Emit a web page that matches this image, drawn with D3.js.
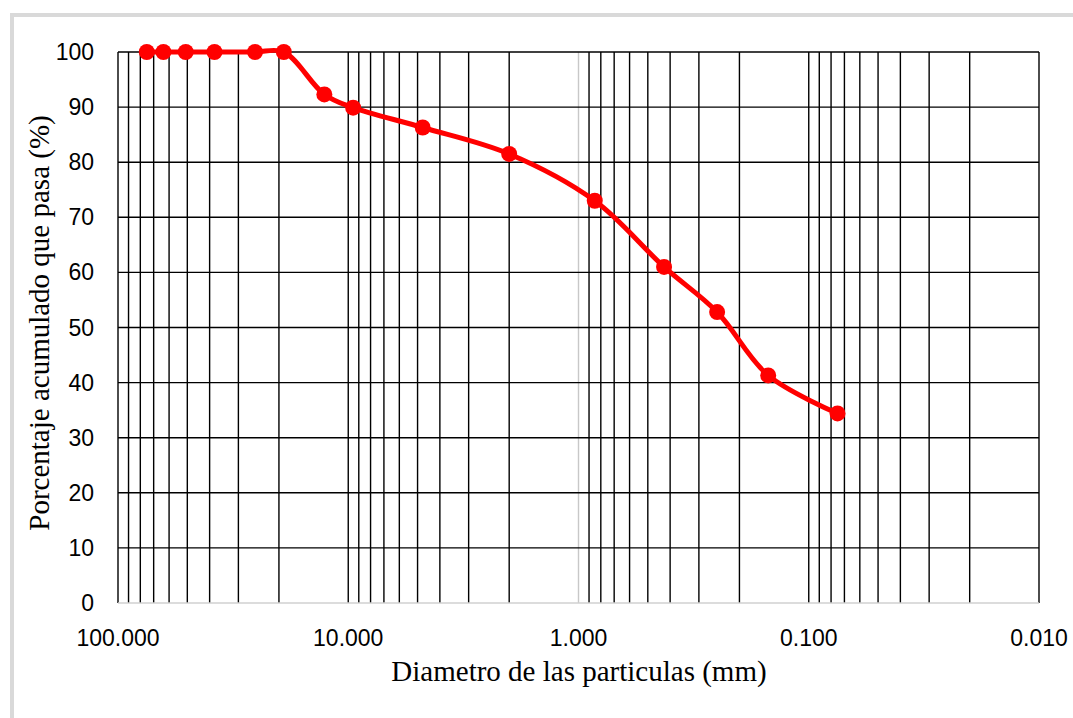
<!DOCTYPE html>
<meta charset="utf-8">
<html lang="es">
<head>
    <title>Curva granulometrica</title>
    <script src="https://d3js.org/d3.v7.min.js"></script>
    <style>
        body { margin: 0; background: #fff; }
        .tick-label { font: 23px "Liberation Sans", Arial, sans-serif; fill: #000; }
        .axis-title { font: 29px "Liberation Serif", "Times New Roman", serif; fill: #000; }
    </style>
</head>
<body>
    <svg width="1073" height="718"></svg>
    <script>
        // Sieve openings (mm) and cumulative % passing
        var diameters = [75, 63.5, 50.8, 38.1, 25.4, 19.05, 12.7, 9.525, 4.75, 2.0, 0.85, 0.425, 0.25, 0.15, 0.075];
        var passing = [100, 100, 100, 100, 100, 100, 92.3, 89.9, 86.3, 81.5, 73.0, 61.0, 52.8, 41.3, 34.4];

        var xTickValues = [100, 10, 1, 0.1, 0.01];
        var yTickValues = [0, 10, 20, 30, 40, 50, 60, 70, 80, 90, 100];

        var data = diameters.map(function(d, i) { return { d: d, p: passing[i] }; });

        var svg = d3.select("svg");

        // Chart frame
        svg.append("rect")
            .attr("x", 12).attr("y", 15)
            .attr("width", 1080).attr("height", 720)
            .attr("fill", "none")
            .attr("stroke", "#d9d9d9")
            .attr("stroke-width", 4);

        var plot = { left: 118, right: 1039, top: 52, bottom: 603 };

        var x = d3.scaleLog().domain([100, 0.01]).range([plot.left, plot.right]);
        var y = d3.scaleLinear().domain([0, 100]).range([plot.bottom, plot.top]);

        // Vertical gridlines (log minor + major)
        svg.append("g")
            .selectAll("line")
            .data(x.ticks())
            .enter().append("line")
            .attr("x1", function(d) { return x(d); })
            .attr("x2", function(d) { return x(d); })
            .attr("y1", plot.top)
            .attr("y2", plot.bottom)
            .attr("stroke", function(d) { return Math.abs(d - 1) < 1e-9 ? "#c8c8c8" : "#000"; })
            .attr("stroke-width", 1.4);

        // Horizontal gridlines
        svg.append("g")
            .selectAll("line")
            .data(yTickValues.filter(function(v) { return v > 0; }))
            .enter().append("line")
            .attr("x1", plot.left)
            .attr("x2", plot.right)
            .attr("y1", function(d) { return y(d); })
            .attr("y2", function(d) { return y(d); })
            .attr("stroke", "#000")
            .attr("stroke-width", 1.4);

        // X axis line (light grey)
        svg.append("line")
            .attr("x1", plot.left).attr("x2", plot.right)
            .attr("y1", y(0)).attr("y2", y(0))
            .attr("stroke", "#d0d0d0")
            .attr("stroke-width", 1.5);

        // Y tick labels
        svg.append("g")
            .selectAll("text")
            .data(yTickValues)
            .enter().append("text")
            .attr("class", "tick-label")
            .attr("x", 94)
            .attr("y", function(d) { return y(d); })
            .attr("dy", "0.35em")
            .attr("text-anchor", "end")
            .text(function(d) { return d; });

        // X tick labels
        var fmt = d3.format(".3f");
        svg.append("g")
            .selectAll("text")
            .data(xTickValues)
            .enter().append("text")
            .attr("class", "tick-label")
            .attr("x", function(d) { return x(d); })
            .attr("y", 638)
            .attr("dy", "0.35em")
            .attr("text-anchor", "middle")
            .text(function(d) { return fmt(d); });

        // Axis titles
        svg.append("text")
            .attr("class", "axis-title")
            .attr("x", 579)
            .attr("y", 681)
            .attr("text-anchor", "middle")
            .text("Diametro de las particulas (mm)");

        svg.append("text")
            .attr("class", "axis-title")
            .attr("transform", "translate(49,323) rotate(-90)")
            .attr("text-anchor", "middle")
            .text("Porcentaje acumulado que pasa (%)");

        // Gradation curve (smoothed)
        var line = d3.line()
            .x(function(d) { return x(d.d); })
            .y(function(d) { return y(d.p); })
            .curve(d3.curveCatmullRom.alpha(0.5));

        svg.append("path")
            .datum(data)
            .attr("fill", "none")
            .attr("stroke", "#ff0000")
            .attr("stroke-width", 5)
            .attr("stroke-linejoin", "round")
            .attr("d", line);

        svg.append("g")
            .selectAll("circle")
            .data(data)
            .enter().append("circle")
            .attr("cx", function(d) { return x(d.d); })
            .attr("cy", function(d) { return y(d.p); })
            .attr("r", 8)
            .attr("fill", "#ff0000");
    </script>
</body>
</html>
